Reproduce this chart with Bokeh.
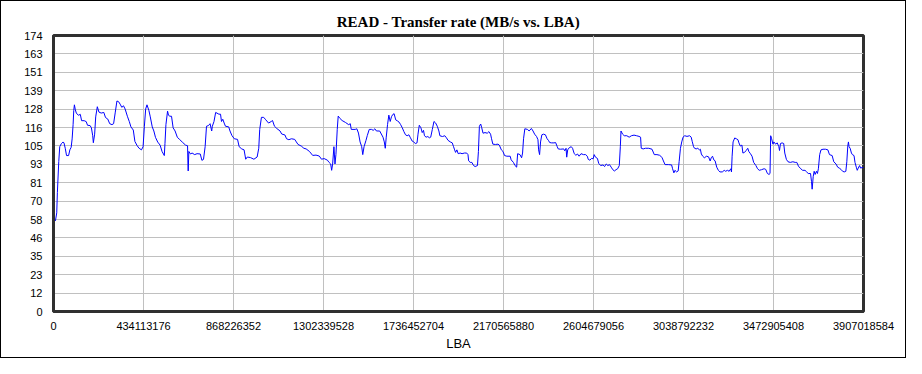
from bokeh.plotting import figure
from bokeh.models import FixedTicker, Range1d
from bokeh.embed import file_html
from bokeh.resources import INLINE

TOTAL_LBA = 3907018584

# position along the disk, percent of total LBA range
pos_pct = [
    0.08, 0.24, 0.40, 0.48, 0.65, 0.77, 0.97, 1.17, 1.29, 1.45, 1.61, 1.86, 2.02, 2.18, 2.30, 2.42, 2.50, 2.58,
    2.70, 2.82, 3.07, 3.31, 3.47, 3.79, 4.04, 4.20, 4.52, 4.68, 4.84, 4.92, 5.08, 5.21, 5.41, 5.61, 5.89, 6.21,
    6.42, 6.70, 6.94, 7.22, 7.42, 7.63, 7.83, 8.03, 8.23, 8.43, 8.64, 8.84, 9.12, 9.36, 9.56, 9.85, 10.05, 10.33,
    10.57, 10.86, 11.06, 11.22, 11.38, 11.54, 11.78, 11.95, 12.19, 12.39, 12.59, 12.87, 13.16, 13.40, 13.68, 13.76,
    13.88, 14.08, 14.20, 14.37, 14.57, 14.77, 15.01, 15.29, 15.58, 15.90, 16.30, 16.55, 16.59, 16.63, 16.71, 16.91,
    17.11, 17.43, 17.72, 18.12, 18.32, 18.52, 18.72, 18.89, 19.13, 19.33, 19.53, 19.61, 19.81, 20.02,
    20.42, 20.62, 20.74, 20.90, 21.07, 21.23, 21.63, 21.79, 22.03, 22.32, 22.72, 22.92, 23.24, 23.53, 23.73, 23.93,
    24.33, 24.74, 25.14, 25.34, 25.46, 25.67, 25.95, 26.15, 26.55, 26.88, 27.04, 27.28, 27.56, 27.97, 28.17, 28.57,
    28.77, 29.06, 29.38, 29.78, 29.98, 30.19, 30.59, 30.91, 31.19, 31.60, 32.00, 32.41, 32.81, 33.09, 33.41, 33.82,
    34.02, 34.22, 34.34, 34.46, 34.62, 34.75, 34.87, 35.03, 35.15, 35.35, 35.63, 36.04, 36.44, 36.64, 36.76, 37.25,
    37.45, 37.65, 37.85, 38.05, 38.18, 38.34, 38.58, 38.74, 38.98, 39.27, 39.47, 39.67, 39.87, 40.27, 40.68,
    40.84, 40.96, 41.08, 41.24, 41.40, 41.57, 41.73, 41.89, 42.05, 42.25, 42.45, 42.66, 42.86, 43.06, 43.26, 43.46,
    43.66, 43.87, 44.07, 44.27, 44.47, 44.67, 44.88, 45.00, 45.16, 45.36, 45.52, 45.68, 45.80, 46.00, 46.21, 46.41,
    46.57, 46.77, 46.97, 47.18, 47.38, 47.58, 47.70, 48.02, 48.31, 48.51, 48.71, 48.99, 49.23, 49.39, 49.52, 49.64,
    49.80, 49.96, 50.20, 50.44, 50.73, 51.01, 51.17, 51.25, 51.45, 51.65, 51.86, 52.06, 52.34, 52.46, 52.58, 52.74,
    52.87, 53.03, 53.27, 53.55, 53.75, 53.96, 54.08, 54.24, 54.56, 54.88, 55.04, 55.29, 55.49, 55.69, 55.97, 56.38,
    56.50, 56.78, 56.98, 57.18, 57.30, 57.59, 57.79, 57.91, 58.03, 58.19, 58.51, 58.72, 59.00, 59.20, 59.40, 59.64,
    59.81, 59.89, 60.01, 60.13, 60.29, 60.49, 60.73, 60.94,
    61.10, 61.26, 61.50, 61.78, 61.99, 62.19, 62.31, 62.59, 62.99, 63.12, 63.28, 63.36, 63.48, 63.68, 63.92, 64.08,
    64.29, 64.49, 64.69, 64.89, 65.13, 65.42, 65.70, 65.90, 66.02, 66.22, 66.42, 66.63, 66.75, 66.91, 67.15, 67.31,
    67.55, 67.84, 68.04, 68.24, 68.44, 68.64, 68.85, 69.05, 69.25, 69.45, 69.65, 69.85, 69.98, 70.06, 70.26, 70.46,
    70.78, 71.07, 71.35, 71.67, 71.99, 72.28, 72.48, 72.56, 72.80, 73.08, 73.49, 73.89, 74.17, 74.50, 74.82, 74.98,
    75.14, 75.30, 75.50, 75.91, 76.31, 76.43, 76.59, 76.72, 76.92, 77.12, 77.24, 77.40, 77.56, 77.72, 77.93, 78.21,
    78.53, 78.73, 78.85, 79.02, 79.14, 79.34, 79.54, 79.74, 79.86, 79.98, 80.15, 80.35, 80.63, 80.87, 81.07, 81.20,
    81.36,
    81.52, 81.68, 81.88, 82.08, 82.28, 82.57, 82.81, 82.97, 83.21, 83.41, 83.62, 83.70, 83.78, 83.90, 84.10, 84.30,
    84.50, 84.62, 84.79, 84.99, 85.11, 85.31, 85.51, 85.71, 85.84, 86.04, 86.24, 86.44, 86.72, 86.92, 87.13, 87.41,
    87.73, 87.93, 88.14, 88.34, 88.46, 88.54, 88.66, 88.82, 88.94, 89.14, 89.35, 89.55, 89.63, 89.75, 89.95, 90.15,
    90.28, 90.48, 90.68, 90.96, 91.28, 91.57, 91.77, 91.97, 92.25, 92.49, 92.78, 92.98, 93.18, 93.46, 93.58, 93.66,
    93.79, 93.91, 94.03, 94.19, 94.31, 94.43, 94.59, 94.75, 95.00, 95.32, 95.60, 95.80, 96.13, 96.33, 96.61, 96.81,
    97.01, 97.22, 97.42, 97.62, 97.82, 97.94, 98.06, 98.14, 98.22, 98.35, 98.51, 98.63, 98.83, 98.95, 99.11, 99.23,
    99.35, 99.52, 99.64, 100.0,
]

# transfer rate, MB/s
rate_mbs = [
    58.2, 57.2, 62.2, 75.1, 94.5, 103.9, 105.8, 106.8, 106.4, 102.9, 98.3, 98.3, 101.9, 103.5, 108.8, 117.8, 126.7, 130.3,
    127.1, 125.1, 123.7, 124.3, 120.3, 120.3, 119.7, 117.4, 117.2, 115.8, 110.8, 106.4, 111.8, 122.7, 129.1, 125.7, 125.1, 125.5,
    122.3, 121.3, 118.4, 117.8, 118.4, 125.7, 132.7, 132.3, 130.7, 128.7, 129.7, 127.7, 123.1, 119.7, 116.4, 114.4, 107.2, 104.5,
    102.9, 101.9, 103.9, 116.8, 127.7, 130.3, 126.7, 122.7, 116.4, 113.8, 109.8, 106.8, 104.9, 100.9, 98.3, 105.8,
    117.8, 126.3, 123.7, 123.1, 123.1, 115.8, 113.8, 109.8, 108.4, 106.8, 104.9, 104.5, 94.9, 88.6, 100.9, 99.3,
    99.9, 98.9, 99.5, 99.3, 95.3, 95.9, 103.9, 116.8, 117.2, 118.4, 113.8, 116.8, 119.7, 125.5,
    124.4, 124.4, 119.8, 121.2, 118.8, 116.8, 116.4, 113.8, 110.9, 108.9, 108.5, 103.9, 102.5, 101.9, 96.0, 97.4,
    97.0, 96.0, 97.4, 102.9, 114.8, 122.4, 122.4, 121.2, 118.8, 119.8, 120.4, 116.8, 115.4, 113.8, 111.9, 111.3,
    108.9, 108.3, 108.9, 108.5, 106.9, 105.3, 104.3, 102.9, 102.5, 100.9, 98.4, 98.6, 98.0, 96.0, 96.4, 95.4,
    94.0, 93.0, 89.0, 93.0, 103.9, 93.0, 99.0, 114.8, 123.2, 121.8, 120.4, 119.2, 117.8, 118.4, 114.8, 114.8,
    115.2, 112.5, 106.9, 103.9, 98.9, 103.9, 107.9, 110.9, 114.8, 114.8, 114.2, 115.2, 113.8, 113.8, 109.9,
    106.9, 102.9, 109.9, 117.8, 123.8, 119.8, 122.8, 124.2, 124.7, 120.8, 120.2, 119.4, 117.8, 115.8, 113.4, 111.4,
    110.8, 111.4, 109.5, 107.5, 106.9, 105.9, 106.3, 111.8, 117.4, 115.8, 112.8, 114.2, 110.8, 109.9, 110.3, 109.5,
    109.9, 114.8, 119.8, 118.8, 116.8, 113.8, 110.8, 110.3, 110.8, 109.5, 107.9, 106.9, 106.3, 103.9, 101.9, 100.3,
    101.9, 99.5, 99.9, 99.5, 99.9, 99.9, 98.9, 95.0, 94.0, 94.0, 92.0, 91.4, 92.0, 100.9, 116.8, 118.2,
    115.8, 112.4, 112.8, 112.4, 113.4, 111.8, 108.9, 105.5, 105.3, 105.5, 104.9, 101.9, 100.9, 98.3, 97.9, 97.9,
    95.6, 94.0, 92.0, 91.0, 99.5, 98.9, 96.9, 99.9, 108.9, 115.2, 114.8, 113.8, 115.4, 113.8, 111.8, 110.3,
    108.3, 101.9, 98.9, 106.9, 111.4, 111.8, 111.4, 108.9,
    107.9, 106.5, 106.3, 106.3, 106.5, 103.9, 102.5, 102.3, 102.5, 101.3, 102.9, 97.3, 101.9, 103.3, 103.9, 102.9,
    99.5, 98.5, 99.3, 97.9, 99.5, 98.9, 98.9, 97.9, 95.9, 95.4, 96.5, 96.3, 98.9, 97.3, 96.5, 93.4,
    92.0, 92.4, 91.4, 93.0, 92.0, 92.6, 91.0, 89.4, 88.6, 89.4, 90.0, 92.0, 103.9, 113.8, 111.8, 110.8,
    110.8, 109.9, 110.8, 111.2, 110.8, 110.4, 109.9, 102.9, 102.5, 102.9, 102.9, 102.3, 98.9, 98.9, 98.5, 97.9,
    96.9, 94.9, 92.6, 92.6, 92.4, 90.0, 87.4, 89.0, 88.0, 88.6, 94.6, 102.9, 106.9, 109.9, 110.8, 110.4,
    110.8, 109.9, 107.3, 103.9, 102.9, 102.5, 102.9, 101.9, 102.3, 99.3, 97.9, 96.9, 97.9, 97.5, 94.9, 96.9,
    97.9,
    95.6, 95.0, 91.0, 89.0, 88.0, 88.0, 89.0, 88.4, 89.0, 88.4, 90.0, 88.0, 97.9, 106.9, 109.4, 108.9,
    108.3, 106.3, 104.3, 104.9, 99.9, 100.3, 101.5, 102.9, 100.9, 99.5, 97.9, 94.0, 92.0, 90.0, 89.0, 89.4,
    90.0, 89.6, 87.0, 86.4, 87.0, 110.8, 108.9, 105.5, 106.9, 105.5, 106.3, 103.9, 101.5, 105.9, 106.3, 105.9,
    99.9, 95.9, 94.4, 94.0, 94.4, 94.0, 94.0, 91.6, 90.0, 89.0, 89.0, 88.0, 87.0, 87.0, 82.0, 77.1,
    85.0, 88.4, 86.4, 88.4, 87.0, 90.0, 98.9, 101.9, 102.3, 102.3, 101.9, 98.9, 98.3, 94.4, 93.0, 91.0,
    90.4, 89.6, 88.4, 88.0, 88.4, 94.4, 104.3, 106.9, 103.9, 102.9, 99.9, 98.9, 98.3, 94.0, 91.0, 89.0,
    90.4, 92.0, 90.4, 91.0,
]

y_tick_labels = ["0", "12", "23", "35", "46", "58", "70", "81", "93", "105", "116", "128", "139", "151", "163", "174"]
x_tick_step = 434113176
y_max = 174

lba = [p_ * TOTAL_LBA / 100.0 for p_ in pos_pct]

p = figure(width=906, height=358, output_backend="svg", toolbar_location=None,
           x_range=Range1d(0, TOTAL_LBA), y_range=Range1d(0, y_max),
           min_border_left=52, min_border_right=44, min_border_top=34, min_border_bottom=48,
           title="READ - Transfer rate (MB/s vs. LBA)")
p.styles = {"border": "1px solid black", "box-sizing": "border-box"}

p.title.align = "center"
p.title.text_font = "Liberation Serif"
p.title.text_font_size = "15px"
p.title.text_font_style = "bold"
p.title.text_color = "black"
p.title.standoff = 12

p.line(lba, rate_mbs, line_color="#0000ff", line_width=1)

y_ticks = [round(y_max * k / 15, 4) for k in range(16)]
p.yaxis.ticker = FixedTicker(ticks=y_ticks)
p.yaxis.major_label_overrides = {t: lab for t, lab in zip(y_ticks, y_tick_labels)}
x_ticks = [x_tick_step * k for k in range(10)]
p.xaxis.ticker = FixedTicker(ticks=x_ticks)
p.xaxis.major_label_overrides = {t: str(t) for t in x_ticks}
p.xaxis.axis_label = "LBA"

for ax in (p.xaxis, p.yaxis):
    ax.major_tick_line_color = None
    ax.minor_tick_line_color = None
    ax.axis_line_color = "#303030"
    ax.axis_line_width = 3
    ax.major_label_text_font = "Liberation Sans"
    ax.major_label_text_font_size = "11px"
    ax.major_label_text_color = "black"
    ax.major_label_standoff = 5
p.xaxis.major_label_standoff = 4
p.xaxis.axis_label_text_font = "Liberation Sans"
p.xaxis.axis_label_text_font_size = "13px"
p.xaxis.axis_label_text_font_style = "normal"
p.xaxis.axis_label_text_color = "black"
p.xaxis.axis_label_standoff = 3

p.outline_line_color = "#303030"
p.outline_line_width = 3
p.outline_line_alpha = 1

p.xgrid.grid_line_color = "#c0c0c0"
p.ygrid.grid_line_color = "#c0c0c0"
p.xgrid.grid_line_width = 1
p.ygrid.grid_line_width = 1

p.background_fill_color = "white"
p.border_fill_color = "white"

open("out.html", "w").write(file_html(p, INLINE))
